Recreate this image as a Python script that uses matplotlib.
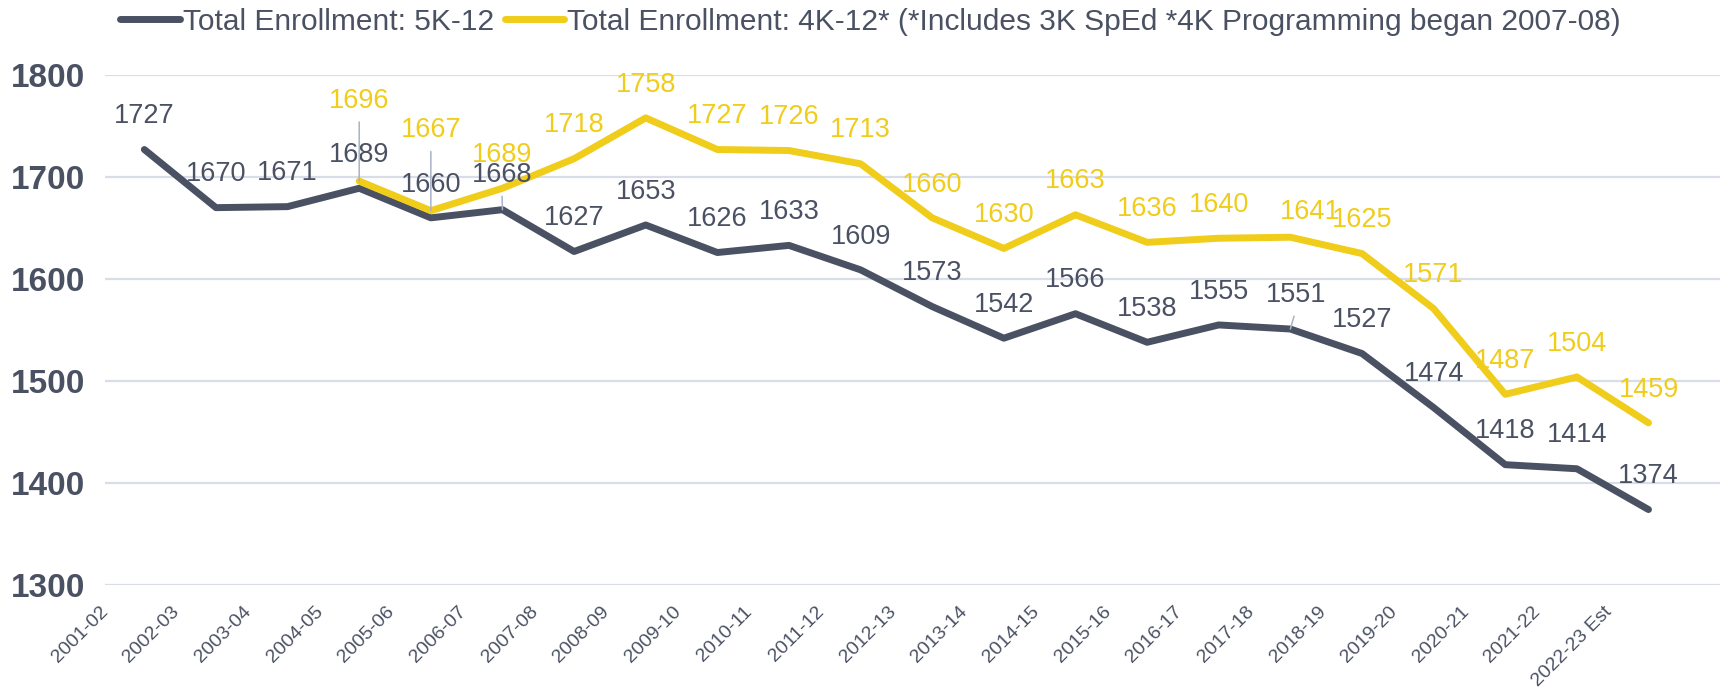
import numpy as np
import matplotlib
matplotlib.use('Agg')
import matplotlib.pyplot as plt
import matplotlib.transforms as mtransforms

plt.rcParams['font.family'] = ['Liberation Sans', 'DejaVu Sans']

# school years on the x axis
years = ['2001-02', '2002-03', '2003-04', '2004-05', '2005-06', '2006-07',
         '2007-08', '2008-09', '2009-10', '2010-11', '2011-12', '2012-13',
         '2013-14', '2014-15', '2015-16', '2016-17', '2017-18', '2018-19',
         '2019-20', '2020-21', '2021-22', '2022-23 Est']

# Total Enrollment: 5K-12
k5 = [1727, 1670, 1671, 1689, 1660, 1668, 1627, 1653, 1626, 1633, 1609,
      1573, 1542, 1566, 1538, 1555, 1551, 1527, 1474, 1418, 1414, 1374]

# Total Enrollment: 4K-12 (no values before 2004-05)
k4 = [None, None, None, 1696, 1667, 1689, 1718, 1758, 1727, 1726, 1713,
      1660, 1630, 1663, 1636, 1640, 1641, 1625, 1571, 1487, 1504, 1459]

yticks = [1300, 1400, 1500, 1600, 1700, 1800]

label_5k = 'Total Enrollment: 5K-12'
label_4k = 'Total Enrollment: 4K-12* (*Includes 3K SpEd *4K Programming began 2007-08)'

DARK = '#4a5163'
YELLOW = '#f0cc1b'
GRID = '#d9dde7'
LEADER = '#a8b2c8'

fig = plt.figure(figsize=(17.26, 6.93), dpi=100)
ax = fig.add_axes([0.0608, 0.1558, 0.9358, 0.7359])

x = np.arange(len(years))
k4_arr = np.array([np.nan if v is None else v for v in k4], dtype=float)

ax.plot(x, k5, color=DARK, lw=5, solid_capstyle='round', solid_joinstyle='round',
        label=label_5k, zorder=3)
ax.plot(x, k4_arr, color=YELLOW, lw=5, solid_capstyle='round', solid_joinstyle='round',
        label=label_4k, zorder=3)

# data labels: default offset above the point, a few moved by hand (points)
default_off = (0, 24)
special = {
    ('k4', 3): ((0, 58), True),
    ('k4', 4): ((0, 58), True),
    ('k4', 16): ((14.4, 18), False),
    ('k5', 5): ((-0.5, 25), True),
    ('k5', 16): ((4.3, 24.5), True),
}

def put_labels(vals, key, color):
    for i, v in enumerate(vals):
        if v is None:
            continue
        off, leader = special.get((key, i), (default_off, False))
        kw = {}
        if leader:
            kw['arrowprops'] = dict(arrowstyle='-', color=LEADER, lw=1.1,
                                    shrinkA=4, shrinkB=0, relpos=(0.5, 0))
        ax.annotate(f'{int(v)}', (i, v), xytext=off, textcoords='offset points',
                    ha='center', va='center', fontsize=19.5, color=color,
                    zorder=4, **kw)

put_labels(k5, 'k5', DARK)
put_labels(k4, 'k4', YELLOW)

ax.set_xlim(-0.55, 22.0)
ax.set_ylim(1300, 1800)
ax.set_yticks(yticks)
ax.set_yticklabels([str(t) for t in yticks], fontsize=24, fontweight='bold', color=DARK)
ax.tick_params(axis='y', length=0, pad=14)

ax.set_xticks(x)
ax.set_xticklabels(years, fontsize=14, color=DARK, rotation=45,
                   ha='right', va='top', rotation_mode='anchor')
ax.tick_params(axis='x', length=0, pad=13)
shift = mtransforms.ScaledTranslation(-0.45, 0, fig.dpi_scale_trans)
for lab in ax.get_xticklabels():
    lab.set_transform(lab.get_transform() + shift)

ax.grid(axis='y', color=GRID, lw=1.6)
ax.set_axisbelow(True)
for s in ax.spines.values():
    s.set_visible(False)

fig.legend(loc='upper left', bbox_to_anchor=(0.068, 0.993), ncol=2, frameon=False,
           fontsize=21.5, labelcolor=DARK, handlelength=2.0, handletextpad=0.1,
           columnspacing=0.35, borderpad=0.1, borderaxespad=0.0)

fig.savefig('out.png', dpi=100)
